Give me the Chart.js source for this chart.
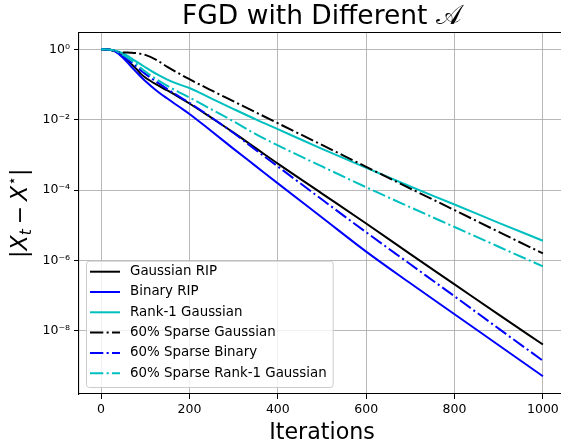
<!DOCTYPE html>
<html><head><meta charset="utf-8">
<script src="https://cdn.jsdelivr.net/npm/chart.js@4.4.1/dist/chart.umd.min.js"></script>
<style>html,body{margin:0;padding:0;background:#fff;overflow:hidden;width:561px;height:448px}canvas{display:block}</style>
</head><body>
<canvas id="c" width="566" height="448" style="width:566px;height:448px"></canvas>
<script>
const iterations = [0,20,30,40,50,60,70,80,90,100,125,150,175,200,250,300,350,400,500,600,700,800,900,1000];
const gaussianRIP = [1,0.977,0.912,0.776,0.617,0.479,0.363,0.275,0.2,0.158,0.1,0.0676,0.0447,0.0288,0.0112,4.27e-3,1.55e-3,5.62e-4,7.94e-5,1.12e-5,1.51e-6,2.09e-7,2.88e-8,4.07e-9];
const binaryRIP = [1,0.977,0.891,0.741,0.562,0.417,0.302,0.224,0.166,0.126,0.0676,0.0398,0.024,0.0145,4.68e-3,1.48e-3,4.79e-4,1.55e-4,1.66e-5,1.78e-6,2.24e-7,2.95e-8,3.89e-9,5.13e-10];
const rank1Gaussian = [1,0.977,0.933,0.851,0.759,0.646,0.537,0.447,0.372,0.309,0.2,0.138,0.102,0.0794,0.0398,0.02,0.0102,5.37e-3,1.48e-3,4.27e-4,1.26e-4,3.89e-5,1.17e-5,3.63e-6];
const sparseGaussian = [1,0.977,0.891,0.832,0.813,0.813,0.794,0.776,0.741,0.692,0.501,0.316,0.209,0.141,0.0676,0.0331,0.0162,7.94e-3,1.91e-3,4.57e-4,1.1e-4,2.69e-5,6.46e-6,1.58e-6];
const sparseBinary = [1,0.977,0.912,0.794,0.646,0.513,0.407,0.324,0.251,0.2,0.12,0.0741,0.0468,0.0302,0.0115,4.17e-3,1.38e-3,4.68e-4,5.37e-5,6.31e-6,7.76e-7,9.55e-8,1.15e-8,1.41e-9];
const sparseRank1 = [1,0.977,0.912,0.813,0.692,0.575,0.468,0.380,0.295,0.234,0.141,0.0912,0.0617,0.0427,0.0195,8.91e-3,3.89e-3,1.86e-3,4.68e-4,1.2e-4,3.24e-5,8.91e-6,2.45e-6,6.76e-7];
const seriesLabels = ['Gaussian RIP','Binary RIP','Rank-1 Gaussian','60% Sparse Gaussian','60% Sparse Binary','60% Sparse Rank-1 Gaussian'];
const xTicks = [0,200,400,600,800,1000];
const xTickLabels = ['0','200','400','600','800','1000'];
const yTicks = [1e-8,1e-6,1e-4,1e-2,1];
const yTickLabels = ['10\u207B\u2078','10\u207B\u2076','10\u207B\u2074','10\u207B\u00B2','10\u2070'];

const series = [gaussianRIP, binaryRIP, rank1Gaussian, sparseGaussian, sparseBinary, sparseRank1];
const colors = ['#000000','#0000ff','#00bfbf','#000000','#0000ff','#00bfbf'];
const DASHDOT = [13.3,3.3,2.1,3.3];
const FONT = 'DejaVu Sans';

const datasets = series.map((s,i)=>({
  label: seriesLabels[i],
  data: iterations.map((x,j)=>({x:x, y:s[j]})),
  borderColor: colors[i], backgroundColor: colors[i],
  borderWidth: 2, borderDash: i>=3 ? DASHDOT : [],
  pointRadius: 0, fill: false, cubicInterpolationMode: 'monotone',
  order: 5 - i
}));

const extras = {
  id: 'extras',
  afterDraw(chart){
    const ctx = chart.ctx, ca = chart.chartArea;
    ctx.save();
    ctx.strokeStyle = '#000'; ctx.lineWidth = 1.1;
    ctx.beginPath(); ctx.moveTo(ca.left, ca.top); ctx.lineTo(ca.right, ca.top); ctx.stroke();
    ctx.restore();
    // legend
    ctx.save();
    ctx.font = '13.4px "' + FONT + '"';
    let maxW = 0;
    chart.data.datasets.forEach(d=>{ maxW = Math.max(maxW, ctx.measureText(d.label).width); });
    const bx = ca.left + 7, bb = ca.bottom - 7, rowH = 20.3, n = chart.data.datasets.length;
    const bh = n*rowH + 4.5, by = bb - bh, bw = 44 + maxW + 6;
    ctx.beginPath();
    if (ctx.roundRect) ctx.roundRect(bx+0.5, by+0.5, bw, bh, 3); else ctx.rect(bx+0.5, by+0.5, bw, bh);
    ctx.fillStyle = 'rgba(255,255,255,0.8)'; ctx.fill();
    ctx.strokeStyle = '#cccccc'; ctx.lineWidth = 1; ctx.stroke();
    chart.data.datasets.forEach((d,i)=>{
      const cy = by + 11 + i*rowH;
      ctx.strokeStyle = d.borderColor; ctx.lineWidth = 2; ctx.setLineDash(d.borderDash || []);
      ctx.beginPath(); ctx.moveTo(bx+4, cy); ctx.lineTo(bx+34, cy); ctx.stroke();
      ctx.setLineDash([]);
      ctx.fillStyle = '#000'; ctx.textBaseline = 'middle'; ctx.textAlign = 'left';
      ctx.fillText(d.label, bx+44, cy);
    });
    ctx.restore();
    // y label |X_t − X^⋆|
    const F = 22.2;
    const segs = [
      {t:'|', st:'', s:F, dy:0},
      {t:'X', st:'italic ', s:F, dy:0},
      {t:'t', st:'italic ', s:F*0.7, dy:F*0.2},
      {gap:F*0.22},
      {t:'\u2212', st:'', s:F, dy:0},
      {gap:F*0.22},
      {t:'X', st:'italic ', s:F, dy:0},
      {t:'\u22C6', st:'', s:F*0.7, dy:-F*0.42},
      {t:'|', st:'', s:F, dy:0}
    ];
    ctx.save();
    let total = 0;
    segs.forEach(g=>{ if (g.gap){ g.w = g.gap; } else { ctx.font = g.st + g.s + 'px "' + FONT + '"'; g.w = ctx.measureText(g.t).width; } total += g.w; });
    ctx.translate(26.7, (ca.top + ca.bottom)/2);
    ctx.rotate(-Math.PI/2);
    ctx.fillStyle = '#000'; ctx.textBaseline = 'alphabetic'; ctx.textAlign = 'left';
    let x = -total/2;
    segs.forEach(g=>{ if (!g.gap){ ctx.font = g.st + g.s + 'px "' + FONT + '"'; ctx.fillText(g.t, x, g.dy); } x += g.w; });
    ctx.restore();
  }
};

new Chart(document.getElementById('c'), {
  type: 'line',
  data: { datasets: datasets },
  plugins: [extras],
  options: {
    responsive: false, animation: false, devicePixelRatio: 1,
    layout: { padding: { left: 0, right: 1, top: 0, bottom: 0 } },
    plugins: {
      legend: { display: false }, tooltip: { enabled: false },
      title: { display: true, text: 'FGD with Different \uD835\uDC9C', fullSize: false, color: '#000',
        font: { family: FONT, size: 26.5, weight: 'normal', lineHeight: 1.0 }, padding: { top: 4, bottom: 2 } }
    },
    scales: {
      x: {
        type: 'linear', min: -50, max: 1050,
        afterBuildTicks: s => { s.ticks = xTicks.map(v=>({value:v})); },
        afterFit: s => { s.height = 54; },
        grid: { color: '#b0b0b0', lineWidth: 0.9, tickColor: '#000', tickLength: 5, tickWidth: 1 },
        border: { color: '#000', width: 1.1 },
        ticks: { font: { family: FONT, size: 12.5 }, color: '#000', padding: 3, maxRotation: 0, autoSkip: false,
          callback: (v) => { const k = xTicks.indexOf(v); return k >= 0 ? xTickLabels[k] : ''; } },
        title: { display: true, text: 'Iterations', color: '#000', font: { family: FONT, size: 22.2 }, padding: { top: 0, bottom: 1.2 } }
      },
      y: {
        type: 'logarithmic', min: 1.6e-10, max: 3,
        afterBuildTicks: s => { s.ticks = yTicks.map(v=>({value:v})); },
        afterFit: s => { s.width = 79; },
        grid: { color: '#b0b0b0', lineWidth: 0.9, tickColor: '#000', tickLength: 5, tickWidth: 1 },
        border: { color: '#000', width: 1.1 },
        ticks: { font: { family: FONT, size: 12.5 }, color: '#000', padding: 4, autoSkip: false,
          callback: (v) => { const k = yTicks.indexOf(v); return k >= 0 ? yTickLabels[k] : ''; } }
      }
    }
  }
});
</script>
</body></html>
